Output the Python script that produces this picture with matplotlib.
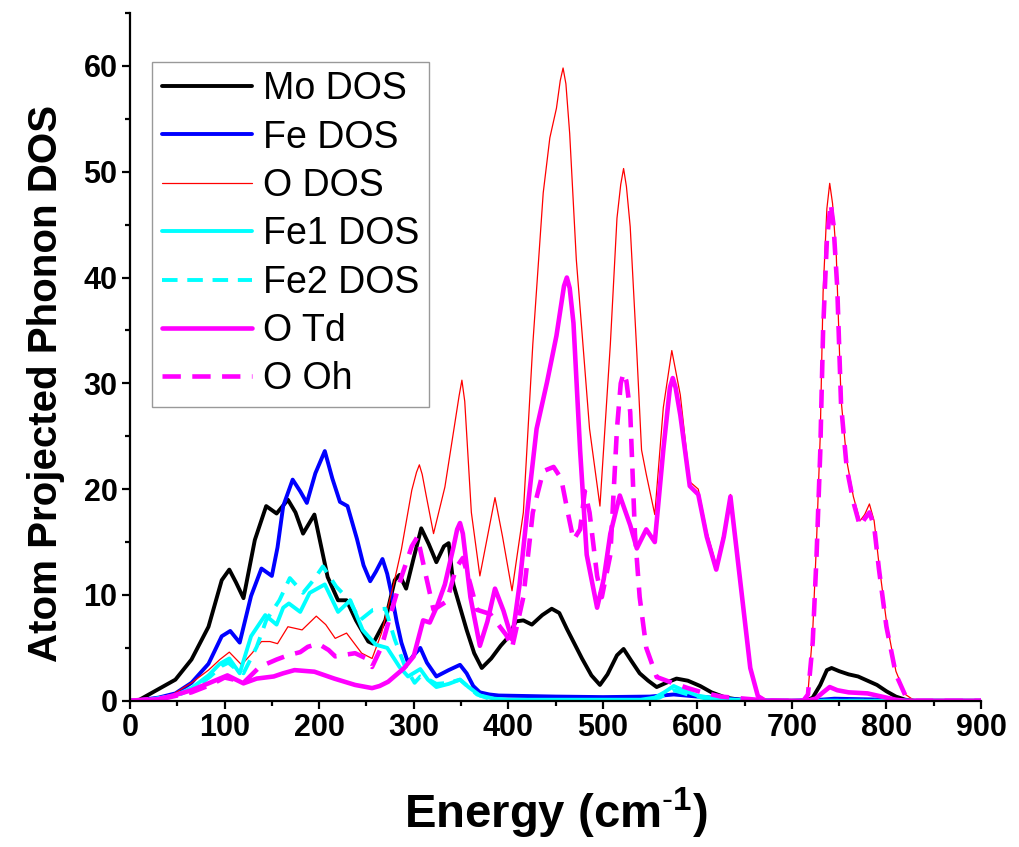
import matplotlib
matplotlib.use("Agg")
import matplotlib.pyplot as plt
from matplotlib.ticker import MultipleLocator

plt.rcParams['font.family'] = ['Liberation Sans', 'DejaVu Sans']
plt.rcParams['mathtext.fontset'] = 'custom'
plt.rcParams['mathtext.rm'] = 'Liberation Sans'
plt.rcParams['mathtext.bf'] = 'Liberation Sans:bold'

# Mo DOS
mo_x = [0, 10, 26, 48, 65, 83, 97, 105, 112, 120, 132, 144, 155, 167, 175, 183, 195, 209, 220, 229,
        239, 252, 257, 270, 280, 285, 292, 300, 308, 316, 324, 332, 337, 342, 356, 364, 372, 382, 392,
        400, 408, 416, 425, 436, 446, 454, 462, 478, 488, 497, 505, 515, 522, 530, 539, 548, 557, 567,
        578, 590, 603, 615, 630, 645, 660, 715, 722, 730, 737, 742, 750, 760, 770, 780, 790, 800, 810,
        820, 830, 900]
mo_y = [0, 0.1, 0.9, 2.0, 3.9, 7.0, 11.4, 12.4, 11.2, 9.7, 15.2, 18.4, 17.7, 19.0, 17.8, 15.8, 17.6, 11.7, 9.5, 9.5,
        7.6, 5.6, 5.4, 7.6, 11.4, 11.9, 10.6, 13.5, 16.3, 14.8, 13.1, 14.6, 14.9, 11.0, 6.7, 4.5, 3.1, 4.0, 5.2,
        6.0, 7.5, 7.6, 7.2, 8.1, 8.7, 8.3, 6.8, 4.0, 2.4, 1.5, 2.5, 4.3, 4.9, 3.8, 2.6, 1.9, 1.3, 1.7,
        2.1, 1.9, 1.4, 0.8, 0.3, 0.1, 0, 0, 0.3, 1.5, 2.9, 3.1, 2.8, 2.5, 2.3, 1.9, 1.5, 0.9, 0.4,
        0.1, 0, 0]

# Fe DOS
fe_x = [0, 10, 30, 48, 65, 83, 97, 106, 116, 128, 139, 150, 156, 162, 172, 180, 187, 196, 206, 214,
        222, 230, 240, 247, 254, 260, 267, 272, 277, 282, 287, 294, 300, 307, 314, 324, 337, 349, 356,
        363, 370, 380, 390, 450, 500, 550, 575, 600, 630, 660, 700, 730, 745, 800, 830, 900]
fe_y = [0, 0.05, 0.3, 0.7, 1.7, 3.5, 6.1, 6.6, 5.5, 9.9, 12.5, 11.8, 14.5, 18.4, 20.9, 19.8, 18.7, 21.5, 23.6, 21.0,
        18.8, 18.4, 15.3, 12.8, 11.3, 12.2, 13.4, 12.0, 9.9, 7.5, 5.5, 3.6, 4.3, 5.0, 3.6, 2.3, 2.9, 3.4, 2.6,
        1.4, 0.8, 0.6, 0.5, 0.4, 0.35, 0.4, 0.6, 0.4, 0.2, 0.05, 0, 0.1, 0.2, 0.1, 0, 0]

# O DOS
o_x = [0, 20, 45, 65, 83, 95, 105, 118, 129, 139, 148, 156, 167, 182, 197, 207, 217, 229, 245, 256,
       266, 279, 287, 298, 303, 306, 309, 313, 321, 333, 344, 348, 351, 354, 361, 370, 378, 386, 394,
       404, 416, 426, 437, 444, 451, 455, 458, 461, 465, 472, 479, 486, 497, 508, 515, 519, 522, 525,
       529, 536, 541, 546, 555, 564, 573, 582, 592, 601, 610, 620, 628, 635, 645, 656, 665, 675, 712,
       717, 722, 726, 730, 733, 737, 740, 743, 747, 752, 758, 765, 772, 777, 782, 787, 792, 800, 810,
       820, 830, 900]
o_y = [0, 0.1, 0.6, 1.7, 2.9, 3.9, 4.6, 3.4, 4.5, 5.6, 5.6, 5.4, 7.0, 6.7, 8.0, 7.2, 5.9, 6.4, 4.5, 4.0,
       6.4, 11.1, 14.3, 19.9, 21.6, 22.3, 21.4, 19.5, 15.8, 20.2, 26.5, 28.8, 30.3, 28.3, 17.8, 11.8, 15.5, 19.2, 15.5,
       10.4, 17.8, 33.7, 48.0, 53.2, 56.0, 58.6, 59.8, 58.3, 53.6, 41.7, 33.7, 25.7, 18.4, 33.7, 45.6, 48.8, 50.3, 48.6,
       44.8, 32.9, 23.7, 21.4, 17.6, 27.7, 33.1, 28.9, 20.7, 20.0, 16.0, 12.8, 16.0, 19.5, 11.8, 3.2, 0.5, 0, 0,
       0.75, 6.5, 14.9, 25.1, 38.6, 46.5, 48.9, 47.0, 42.0, 28.5, 22.7, 19.3, 17.0, 17.6, 18.6, 17.0, 13.0, 7.5, 2.8,
       0.6, 0, 0]

# Fe1 DOS
fe1_x = [0, 20, 48, 65, 83, 95, 105, 116, 128, 143, 155, 162, 168, 180, 190, 206, 220, 233, 246, 260,
         272, 285, 294, 307, 315, 324, 337, 349, 358, 370, 385, 400, 540, 555, 565, 575, 585, 600, 620,
         650, 680, 900]
fe1_y = [0, 0.1, 0.5, 1.2, 2.4, 3.5, 4.0, 2.6, 6.1, 8.1, 7.2, 8.8, 9.2, 8.4, 10.2, 11.0, 8.4, 9.5, 6.7, 5.3,
         5.0, 3.2, 2.3, 3.0, 2.0, 1.3, 1.6, 2.0, 1.3, 0.5, 0.2, 0.1, 0.1, 0.3, 0.8, 1.4, 1.0, 0.5, 0.2,
         0.05, 0, 0]

# Fe2 DOS
fe2_x = [0, 30, 50, 70, 85, 97, 104, 112, 120, 134, 144, 158, 169, 183, 194, 204, 218, 232, 243, 257,
         270, 280, 291, 301, 307, 314, 324, 337, 349, 358, 367, 380, 400, 540, 560, 575, 590, 610, 640,
         680, 900]
fe2_y = [0, 0.2, 0.5, 1.3, 2.3, 3.3, 3.6, 3.0, 2.6, 5.1, 7.6, 9.5, 11.6, 10.2, 11.4, 12.7, 10.8, 9.5, 7.6, 8.6,
         8.7, 5.8, 3.2, 1.7, 2.3, 2.1, 1.6, 1.7, 2.0, 1.3, 0.6, 0.2, 0.05, 0.05, 0.3, 1.0, 0.6, 0.2, 0.05,
         0, 0]

# O Td
td_x = [0, 30, 48, 65, 83, 95, 103, 112, 120, 134, 152, 162, 174, 195, 216, 238, 256, 264, 273, 290,
        300, 310, 317, 325, 333, 342, 346, 349, 352, 360, 370, 378, 386, 395, 404, 412, 420, 430, 441,
        451, 459, 462, 465, 469, 476, 483, 494, 501, 508, 518, 529, 536, 546, 555, 564, 571, 574, 577,
        582, 592, 601, 610, 620, 628, 635, 645, 656, 664, 672, 715, 725, 733, 740, 748, 760, 780, 795,
        810, 820, 900]
td_y = [0, 0.15, 0.55, 1.0, 1.65, 2.1, 2.4, 2.0, 1.65, 2.1, 2.3, 2.6, 2.9, 2.75, 2.1, 1.5, 1.2, 1.4, 1.8, 3.1,
        4.2, 7.6, 7.4, 9.0, 11.0, 14.5, 16.2, 16.8, 15.8, 9.8, 5.2, 7.5, 10.6, 8.5, 5.8, 11.0, 17.8, 25.7, 30.1,
        34.5, 39.2, 40.0, 39.0, 35.7, 23.7, 13.8, 8.8, 11.5, 15.8, 19.4, 16.6, 14.4, 16.2, 15.0, 23.7, 29.6, 30.5, 29.6,
        27.0, 20.3, 19.5, 15.5, 12.4, 15.5, 19.3, 11.6, 3.1, 0.45, 0, 0, 0.2, 0.8, 1.3, 1.0, 0.8, 0.7, 0.4,
        0.1, 0, 0]

# O Oh
oh_x = [0, 40, 65, 85, 100, 110, 120, 137, 155, 167, 180, 188, 199, 210, 217, 238, 250, 256, 266, 277,
        287, 298, 304, 313, 321, 335, 345, 352, 360, 367, 381, 398, 404, 416, 426, 437, 448, 456, 463,
        469, 476, 481, 486, 494, 499, 508, 515, 519, 522, 525, 529, 534, 539, 546, 557, 575, 590, 605,
        625, 650, 670, 690, 712, 717, 722, 726, 730, 733, 737, 741, 744, 748, 752, 758, 765, 772, 777,
        782, 787, 792, 800, 810, 820, 830, 900]
oh_y = [0, 0.3, 0.8, 1.5, 2.2, 2.0, 1.7, 3.2, 3.9, 4.3, 4.6, 5.1, 5.4, 4.8, 4.2, 4.5, 4.0, 3.2, 5.1, 8.6,
        11.7, 14.6, 15.5, 11.8, 8.6, 9.4, 12.6, 13.5, 11.0, 8.6, 8.2, 6.2, 5.0, 9.8, 17.8, 21.7, 22.1, 21.0, 17.8,
        15.2, 16.2, 19.8, 17.8, 11.8, 9.8, 13.8, 25.7, 30.0, 31.0, 30.2, 27.3, 15.8, 9.8, 5.0, 2.25, 1.65, 1.2, 0.8,
        0.4, 0.2, 0.05, 0, 0, 0.6, 5.5, 13.5, 23.5, 35.0, 43.5, 47.0, 45.0, 39.0, 28.0, 22.0, 18.8, 16.5, 17.2,
        17.8, 16.5, 12.5, 7.0, 2.5, 0.5, 0, 0]

fig = plt.figure(figsize=(10.19, 8.47), dpi=100)
ax = fig.add_axes([0.1276, 0.1726, 0.8351, 0.8121])

common = dict(solid_joinstyle='round', solid_capstyle='round', dash_joinstyle='round')
ax.plot(mo_x, mo_y, color='black', lw=2.8, label='Mo DOS', **common)
ax.plot(fe_x, fe_y, color='#0000ff', lw=2.8, label='Fe DOS', **common)
ax.plot(o_x, o_y, color='#ff0000', lw=0.9, label='O DOS', **common)
ax.plot(fe1_x, fe1_y, color='#00ffff', lw=2.8, label='Fe1 DOS', **common)
ax.plot(fe2_x, fe2_y, color='#00ffff', lw=2.8, ls=(0, (4, 2.5)), label='Fe2 DOS', **common)
ax.plot(td_x, td_y, color='#ff00ff', lw=3.3, label='O Td', **common)
ax.plot(oh_x, oh_y, color='#ff00ff', lw=3.3, ls=(0, (4, 2.5)), label='O Oh', **common)

ax.set_xlim(0, 900)
ax.set_ylim(0, 65)
ax.xaxis.set_major_locator(MultipleLocator(100))
ax.xaxis.set_minor_locator(MultipleLocator(50))
ax.yaxis.set_major_locator(MultipleLocator(10))
ax.yaxis.set_minor_locator(MultipleLocator(5))
ax.spines['top'].set_visible(False)
ax.spines['right'].set_visible(False)
for s in ('left', 'bottom'):
    ax.spines[s].set_linewidth(1.6)
ax.tick_params(which='major', direction='out', length=6, width=1.6, labelsize=22, pad=3)
ax.tick_params(which='minor', direction='out', length=3.5, width=1.6)
for lab in ax.get_xticklabels() + ax.get_yticklabels():
    lab.set_fontweight('bold')

ax.set_xlabel(r'Energy (cm$^{\mathbf{\text{-}1}}$)', fontsize=34, fontweight='bold', labelpad=31)
ax.set_ylabel('Atom Projected Phonon DOS', fontsize=29, fontweight='bold')
ax.yaxis.set_label_coords(-0.076, 0.462)

leg = ax.legend(loc='upper left', bbox_to_anchor=(0.026, 0.929), fontsize=27, handlelength=2.4,
                handletextpad=0.3, labelspacing=0.33, borderpad=0.25, frameon=True, fancybox=False,
                borderaxespad=0)
leg.get_frame().set_edgecolor('#808080')
leg.get_frame().set_linewidth(1.0)

fig.savefig('out.png', dpi=100)
